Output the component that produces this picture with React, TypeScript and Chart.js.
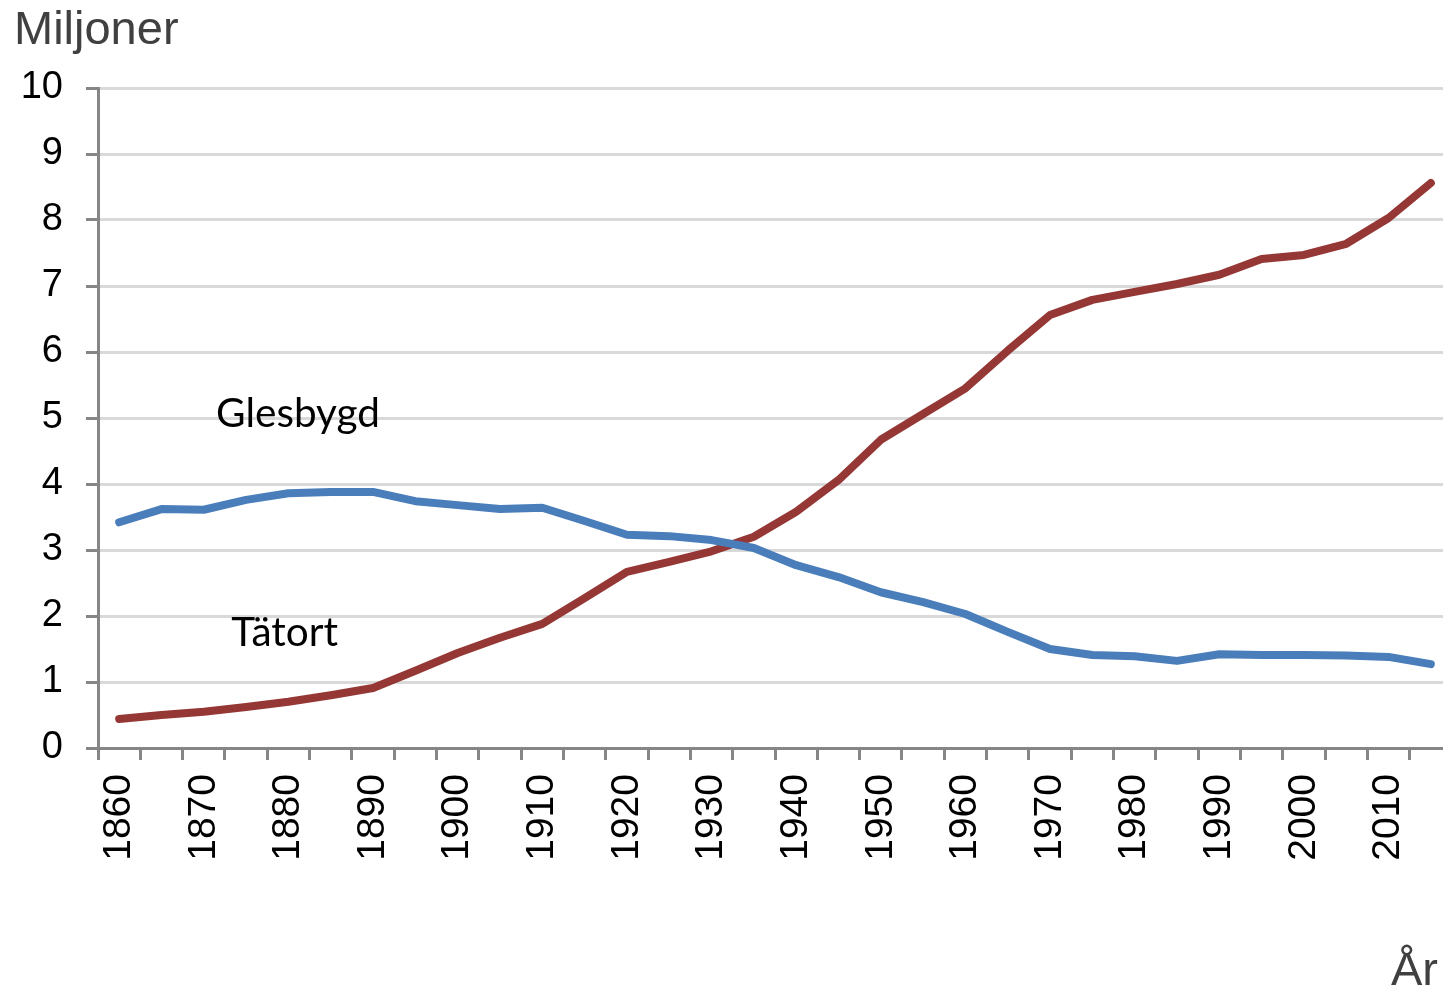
import React, { useEffect, useRef } from "react";
import { Chart, registerables } from "chart.js";

Chart.register(...registerables);

const years = [
  "1860", "1865", "1870", "1875", "1880", "1885", "1890", "1895",
  "1900", "1905", "1910", "1915", "1920", "1925", "1930", "1935",
  "1940", "1945", "1950", "1955", "1960", "1965", "1970", "1975",
  "1980", "1985", "1990", "1995", "2000", "2005", "2010", "2015",
];

const glesbygd = [
  3.42, 3.62, 3.61, 3.76, 3.86, 3.88, 3.88, 3.74,
  3.68, 3.62, 3.64, 3.44, 3.23, 3.21, 3.15, 3.03,
  2.77, 2.59, 2.36, 2.21, 2.03, 1.76, 1.5, 1.41,
  1.39, 1.32, 1.42, 1.41, 1.41, 1.4, 1.38, 1.27,
];

const tatort = [
  0.44, 0.5, 0.55, 0.62, 0.7, 0.8, 0.91, 1.17,
  1.44, 1.67, 1.88, 2.27, 2.67, 2.82, 2.98, 3.2,
  3.58, 4.06, 4.67, 5.06, 5.45, 6.02, 6.56, 6.79,
  6.91, 7.03, 7.17, 7.41, 7.47, 7.64, 8.03, 8.56,
];

const yMin = 0;
const yMax = 10;
const yStep = 1;

const seriesNames = ["Glesbygd", "Tätort"];
const yTitle = "Miljoner";
const xTitle = "År";

export default function App() {
  const ref = useRef<HTMLCanvasElement>(null);

  useEffect(() => {
    if (!ref.current) return;
    const labelsPlugin = {
      id: "labelsPlugin",
      afterDraw(chart: any) {
        const { ctx, scales } = chart;
        const x = scales.x;
        const y = scales.y;
        ctx.save();
        ctx.textBaseline = "alphabetic";
        ctx.textAlign = "left";
        ctx.fillStyle = "#000000";
        ctx.font = "40.5px Lato";
        ctx.fillText(seriesNames[0], x.getPixelForValue(2.29), y.getPixelForValue(4.86));
        ctx.fillText(seriesNames[1], x.getPixelForValue(2.65), y.getPixelForValue(1.545));
        ctx.fillStyle = "#404040";
        ctx.font = "47px 'Liberation Sans', Arial, sans-serif";
        ctx.fillText(yTitle, 14, 44);
        ctx.textAlign = "right";
        ctx.fillText(xTitle, 1438, 985);
        ctx.restore();
      },
    };

    const chart = new Chart(ref.current, {
      type: "line",
      data: {
        labels: years,
        datasets: [
          {
            label: seriesNames[0],
            data: glesbygd,
            borderColor: "#4a7ebb",
            borderWidth: 8,
            pointRadius: 0,
            borderCapStyle: "round",
            borderJoinStyle: "round",
            tension: 0,
          },
          {
            label: seriesNames[1],
            data: tatort,
            borderColor: "#953735",
            borderWidth: 8,
            pointRadius: 0,
            borderCapStyle: "round",
            borderJoinStyle: "round",
            tension: 0,
          },
        ],
      },
      options: {
        responsive: false,
        animation: false,
        devicePixelRatio: 1,
        layout: { padding: { top: 88, left: 0, right: 0, bottom: 0 } },
        plugins: {
          legend: { display: false },
          tooltip: { enabled: false },
        },
        scales: {
          x: {
            type: "category",
            offset: true,
            grid: {
              offset: true,
              drawOnChartArea: false,
              drawTicks: true,
              tickLength: 12,
              tickColor: "#868686",
              tickWidth: 3,
            },
            border: { color: "#868686", width: 3 },
            ticks: {
              autoSkip: false,
              minRotation: 90,
              maxRotation: 90,
              padding: 14,
              color: "#000000",
              font: { family: "'Liberation Sans', Arial, sans-serif", size: 39 },
              callback: function (this: any, value: any, index: number) {
                const lbl = years[index];
                return Number(lbl) % 10 === 0 ? lbl : "";
              },
            },
            afterFit: (scale: any) => {
              scale.height = 240;
              scale.paddingRight = 0;
              scale.paddingLeft = 0;
            },
          },
          y: {
            min: yMin,
            max: yMax,
            grid: {
              color: "#d9d9d9",
              lineWidth: 3,
              tickLength: 12,
              tickColor: "#868686",
              tickWidth: 3,
            },
            border: { color: "#868686", width: 3 },
            ticks: {
              stepSize: yStep,
              padding: 23,
              color: "#000000",
              font: { family: "'Liberation Sans', Arial, sans-serif", size: 38 },
            },
            afterFit: (scale: any) => {
              scale.width = 98;
            },
          },
        },
      },
      plugins: [labelsPlugin],
    } as any);

    return () => chart.destroy();
  }, []);

  return (
    <div
      style={{
        position: "fixed",
        left: 0,
        top: 0,
        width: 1443,
        height: 988,
        overflow: "hidden",
        background: "#ffffff",
      }}
    >
      <canvas ref={ref} width={1452} height={988} style={{ display: "block" }} />
    </div>
  );
}
